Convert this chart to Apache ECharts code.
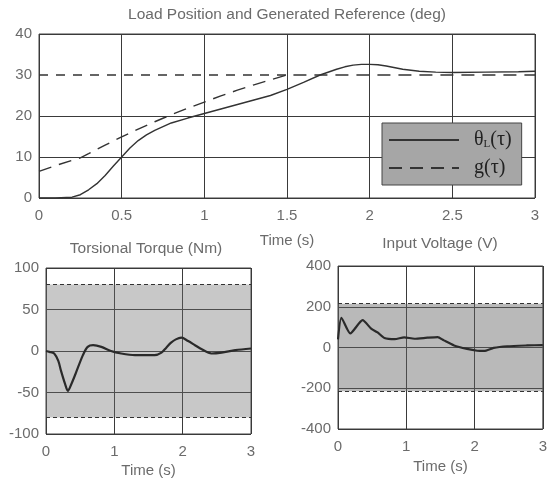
<!DOCTYPE html>
<html>
<head>
<meta charset="utf-8">
<script src="https://cdn.jsdelivr.net/npm/echarts@6/dist/echarts.min.js"></script>
<style>
  html, body { margin: 0; padding: 0; background: #fff; }
  #chart { width: 550px; height: 481px; }
</style>
</head>
<body>
<div id="chart"></div>
<script>
// ---------------- data ----------------
// top plot: load position theta_L and generated reference g
const thetaTime = [0, 0.1, 0.2, 0.25, 0.3, 0.35, 0.4, 0.45, 0.5, 0.55, 0.6, 0.65, 0.7, 0.8, 0.9, 1.0, 1.1, 1.2, 1.3, 1.4, 1.5, 1.6, 1.7, 1.8, 1.85, 1.9, 1.95, 2.0, 2.05, 2.1, 2.2, 2.3, 2.4, 2.5, 2.7, 2.9, 3.0];
const thetaL    = [0, 0, 0.2, 0.8, 2, 3.5, 5.5, 7.8, 10, 12.2, 14, 15.4, 16.5, 18.3, 19.5, 20.6, 21.7, 22.8, 23.9, 25.0, 26.5, 28.2, 30.0, 31.4, 32.0, 32.4, 32.6, 32.6, 32.5, 32.2, 31.4, 30.9, 30.7, 30.6, 30.7, 30.8, 30.9];
const gTime = [0, 0.1, 0.2, 0.25, 0.3, 0.4, 0.5, 0.6, 0.7, 0.8, 0.9, 1.0, 1.1, 1.2, 1.3, 1.4, 1.5, 3.0];
const gRef  = [6.5, 7.9, 9.2, 9.8, 10.8, 12.9, 14.9, 16.8, 18.6, 20.3, 21.9, 23.4, 24.9, 26.3, 27.6, 28.8, 30.0, 30.0];
const targetTime = [0, 1.5];
const targetVal  = [30, 30];

// bottom left: torsional torque (Nm), limits +-80
const torqueTime = [0, 0.05, 0.12, 0.18, 0.22, 0.28, 0.32, 0.37, 0.43, 0.54, 0.61, 0.69, 0.81, 0.95, 1.1, 1.3, 1.45, 1.59, 1.69, 1.76, 1.83, 1.9, 1.98, 2.08, 2.18, 2.28, 2.42, 2.57, 2.77, 3.0];
const torque     = [0, -1, -3, -12, -24, -40, -48, -40, -28, -5, 5, 7, 5, 0, -3, -5, -5, -5, -2, 4, 10, 14, 16, 12, 7, 2, -3, -2, 1, 3];
const torqueLimit = [-80, 80];

// bottom right: input voltage (V), limits +-215
const voltTime = [0, 0.05, 0.18, 0.36, 0.49, 0.58, 0.68, 0.83, 0.97, 1.12, 1.31, 1.46, 1.55, 1.7, 1.89, 2.04, 2.14, 2.28, 2.48, 2.77, 3.0];
const voltage  = [40, 146, 69, 134, 91, 74, 47, 41, 50, 43, 48, 51, 35, 10, -7, -16, -17, -2, 6, 10, 12];
const voltLimit = [-215, 215];

const zip = (xs, ys) => xs.map((x, i) => [x, ys[i]]);

const txtColor = '#6b6b6b';
const lineColor = '#3a3a3a';
const sans = 'Liberation Sans';

// helper for the three axis pairs
function xAx(idx, interval, nameGap) {
    return {
        type: 'value', gridIndex: idx, min: 0, max: 3, interval: interval,
        name: 'Time (s)', nameLocation: 'middle', nameGap: nameGap,
        nameTextStyle: { color: txtColor, fontSize: 15, fontFamily: sans },
        axisLine: { show: false }, axisTick: { show: false },
        axisLabel: { color: txtColor, fontSize: 15, fontFamily: sans, margin: 10 },
        splitLine: { show: true, lineStyle: { color: lineColor, width: 1 } }
    };
}
function yAx(idx, min, max, interval, splitColors) {
    return {
        type: 'value', gridIndex: idx, min: min, max: max, interval: interval,
        axisLine: { show: false }, axisTick: { show: false },
        axisLabel: { color: txtColor, fontSize: 15, fontFamily: sans, margin: 7 },
        splitLine: { show: true, lineStyle: { color: splitColors || lineColor, width: 1 } }
    };
}
function band(lim, fill) {
    return {
        silent: true,
        itemStyle: { color: fill },
        data: [[{ yAxis: lim[0] }, { yAxis: lim[1] }]]
    };
}
function limitLines(lim) {
    return {
        silent: true, symbol: 'none', label: { show: false },
        lineStyle: { color: '#333', type: [4, 3], width: 1.2 },
        data: [{ yAxis: lim[0] }, { yAxis: lim[1] }]
    };
}

const chart = echarts.init(document.getElementById('chart'));

const option = {
    animation: false,
    backgroundColor: '#fff',
    title: [
        { text: 'Load Position and Generated Reference (deg)', left: 287, top: 7, textAlign: 'center', padding: 0,
          textStyle: { color: txtColor, fontSize: 15.5, fontWeight: 'normal', fontFamily: sans } },
        { text: 'Torsional Torque (Nm)', left: 146, top: 241, textAlign: 'center', padding: 0,
          textStyle: { color: txtColor, fontSize: 15.5, fontWeight: 'normal', fontFamily: sans } },
        { text: 'Input Voltage (V)', left: 440, top: 236, textAlign: 'center', padding: 0,
          textStyle: { color: txtColor, fontSize: 15.5, fontWeight: 'normal', fontFamily: sans } }
    ],
    legend: {
        data: ['theta', 'g'],
        orient: 'vertical',
        left: 382, top: 123,
        padding: [7, 10, 7, 6],
        itemWidth: 70, itemHeight: 16, itemGap: 8,
        backgroundColor: '#a6a6a6',
        borderColor: '#444', borderWidth: 1,
        selectedMode: false,
        // hide the marker circle, keep only the line sample
        itemStyle: { color: 'rgba(0,0,0,0)', borderWidth: 0, opacity: 0 },
        formatter: function (name) {
            return name === 'theta' ? '{a|θ}{s|L}{a|(τ)}' : '{a|g(τ)}';
        },
        textStyle: {
            padding: [0, 0, 0, 10],
            rich: {
                a: { fontFamily: 'Liberation Serif', fontSize: 20, color: '#222' },
                s: { fontFamily: 'Liberation Serif', fontSize: 11, color: '#222', verticalAlign: 'bottom', padding: [8, 0, 0, 0] }
            }
        }
    },
    grid: [
        { left: 39, top: 34, width: 496, height: 164, show: true, borderColor: '#444', borderWidth: 1 },
        { left: 46, top: 268, width: 205, height: 166, show: true, borderColor: '#444', borderWidth: 1 },
        { left: 338, top: 266, width: 206, height: 163, show: true, borderColor: '#444', borderWidth: 1 }
    ],
    xAxis: [
        xAx(0, 0.5, 35),
        xAx(1, 1, 29),
        xAx(2, 1, 30)
    ],
    yAxis: [
        // the 30 deg level has no solid grid line, only the dashed target line
        yAx(0, 0, 40, 10, [lineColor, lineColor, lineColor, 'rgba(0,0,0,0)', lineColor]),
        yAx(1, -100, 100, 50),
        yAx(2, -400, 400, 200)
    ],
    series: [
        {
            name: 'theta', type: 'line', xAxisIndex: 0, yAxisIndex: 0,
            data: zip(thetaTime, thetaL), showSymbol: false, symbol: 'none',
            lineStyle: { color: '#333', width: 1.4 }, itemStyle: { color: '#333' }
        },
        {
            name: 'g', type: 'line', xAxisIndex: 0, yAxisIndex: 0,
            data: zip(gTime, gRef), showSymbol: false, symbol: 'none',
            lineStyle: { color: '#333', width: 1.4, type: [13, 8] }, itemStyle: { color: '#333' }
        },
        {
            name: 'target', type: 'line', xAxisIndex: 0, yAxisIndex: 0,
            data: zip(targetTime, targetVal), showSymbol: false, symbol: 'none',
            lineStyle: { color: '#333', width: 1.4, type: [9, 8] }
        },
        {
            name: 'torque', type: 'line', xAxisIndex: 1, yAxisIndex: 1,
            data: zip(torqueTime, torque), showSymbol: false, symbol: 'none', smooth: 0.3,
            lineStyle: { color: '#2a2a2a', width: 2.2 },
            markArea: band(torqueLimit, 'rgba(110,110,110,0.38)'),
            markLine: limitLines(torqueLimit)
        },
        {
            name: 'voltage', type: 'line', xAxisIndex: 2, yAxisIndex: 2,
            data: zip(voltTime, voltage), showSymbol: false, symbol: 'none', smooth: 0.2,
            lineStyle: { color: '#2a2a2a', width: 2.2 },
            markArea: band(voltLimit, 'rgba(100,100,100,0.45)'),
            markLine: limitLines(voltLimit)
        }
    ]
};

chart.setOption(option);
</script>
</body>
</html>
